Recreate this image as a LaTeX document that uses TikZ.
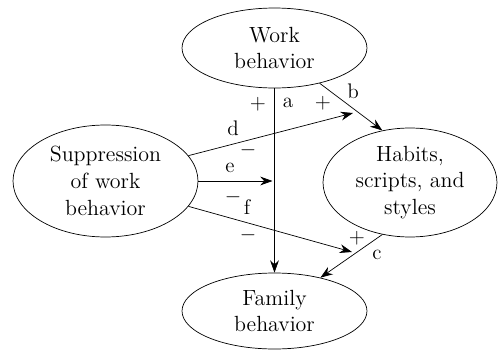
\documentclass[tikz,border=0pt]{standalone}
\usepackage{tikz}
\usetikzlibrary{shapes.geometric}
\usetikzlibrary{arrows.meta}

\begin{document}
\begin{tikzpicture}[x=0.02cm,y=-0.02cm,
    bubble/.style={draw, ellipse, inner sep=0pt, align=center,
      font=\fontsize{12.5}{15.3}\selectfont},
    link/.style={-{Stealth[length=7pt,width=5pt]}},
    tag/.style={inner sep=0pt, font=\fontsize{12}{14}\selectfont}]
    \useasboundingbox (0,0) rectangle (498,352);
    % the four variables
    \node [bubble, minimum width=3.7cm, minimum height=1.6cm] (work) at (274.5,48) {Work\\behavior};
    \node [bubble, minimum width=3.7cm, minimum height=2.24cm] (supp) at (105.5,181) {Suppression\\of work\\behavior};
    \node [bubble, minimum width=3.48cm, minimum height=2.18cm] (habit) at (410,182.5) {Habits,\\scripts, and\\styles};
    \node [bubble, minimum width=3.7cm, minimum height=1.52cm] (family) at (274.5,311) {Family\\behavior};
    % free ends of the paths
    \coordinate (dend) at (353,113);
    \coordinate (eend) at (272.5,181);
    \coordinate (fend) at (352,252);
    % paths
    \draw [link] (work.south) -- (family.north);
    \draw [link] (work.-38) -- (habit.118);
    \draw [link] (supp.17) -- (dend);
    \draw [link] (supp.east) -- (eend);
    \draw [link] (supp.-17) -- (fend);
    \draw [link] (habit.-118) -- (family.36);
    % signs and letters
    \node [tag] (pa) at (258,104) {$+$};
    \node [tag] (la) at (288,103) {a};
    \node [tag] (pd) at (323,103) {$+$};
    \node [tag] (lb) at (353,91) {b};
    \node [tag] (ld) at (233,128) {d};
    \node [tag] (md) at (248,150) {$-$};
    \node [tag] (le) at (230,168) {e};
    \node [tag] (me) at (233,197) {$-$};
    \node [tag] (lf) at (247,207) {f};
    \node [tag] (mf) at (248,235) {$-$};
    \node [tag] (pf) at (357,238) {$+$};
    \node [tag] (lc) at (377,255) {c};
\end{tikzpicture}
\end{document}
